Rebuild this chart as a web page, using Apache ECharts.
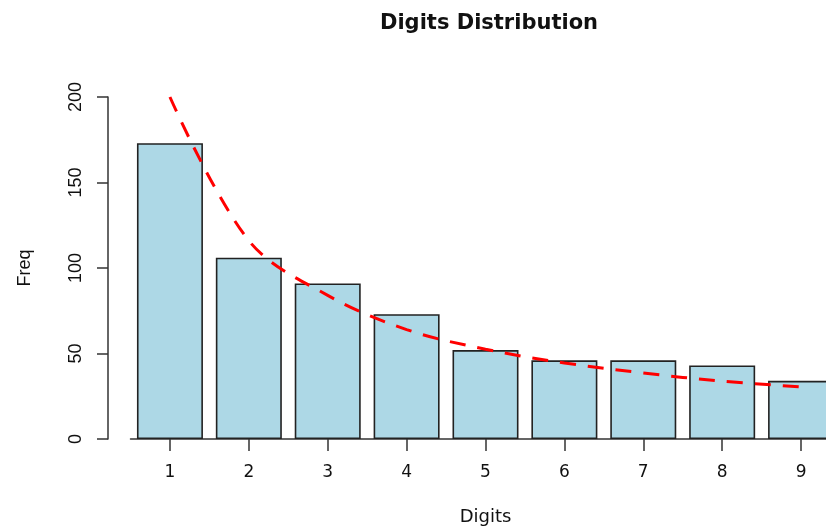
<!DOCTYPE html>
<html>
<head>
<meta charset="utf-8">
<script src="https://cdn.jsdelivr.net/npm/echarts@6/dist/echarts.min.js"></script>
<style>html,body{margin:0;padding:0;background:#fff}#c{width:826px;height:527px}</style>
</head>
<body>
<div id="c"></div>
<script>
const digits = ['1','2','3','4','5','6','7','8','9'];
const freq = [173, 106, 91, 73, 52, 46, 46, 43, 34];
const expected = [200, 116, 84, 64, 52.5, 44.5, 38.6, 33.8, 30.5];
const yTicks = [0, 50, 100, 150, 200];

const chart = echarts.init(document.getElementById('c'), null, {renderer: 'canvas'});
const wide = '"DejaVu Sans", sans-serif';
const narrow = '"Liberation Sans", Arial, sans-serif';
chart.setOption({
  animation: false,
  backgroundColor: '#ffffff',
  title: {
    text: 'Digits Distribution',
    left: 484, top: 8, textAlign: 'center',
    textStyle: {fontFamily: wide, fontSize: 21, fontWeight: 'bold', color: '#111'}
  },
  grid: {left: 130.5, right: -14.5, top: 97, bottom: 88, outerBoundsMode: 'none', containLabel: false},
  xAxis: {
    type: 'category',
    data: digits,
    name: 'Digits',
    nameLocation: 'middle',
    nameGap: 69,
    nameTextStyle: {fontFamily: wide, fontSize: 18, color: '#111'},
    axisLine: {show: true, lineStyle: {color: '#333', width: 1.5}},
    axisTick: {show: true, alignWithLabel: true, length: 12, lineStyle: {color: '#333', width: 1.5}},
    axisLabel: {fontFamily: wide, fontSize: 17, color: '#111', margin: 25},
    splitLine: {show: false}
  },
  yAxis: {
    type: 'value',
    min: yTicks[0], max: yTicks[yTicks.length - 1], interval: 50,
    offset: 22.5,
    name: 'Freq',
    nameLocation: 'middle',
    nameGap: 74,
    nameRotate: 90,
    nameTextStyle: {fontFamily: narrow, fontSize: 18, color: '#111'},
    axisLine: {show: true, lineStyle: {color: '#333', width: 1.5}},
    axisTick: {show: true, length: 11, lineStyle: {color: '#333', width: 1.5}},
    axisLabel: {fontFamily: narrow, fontSize: 18, color: '#111', rotate: 90, margin: 23},
    splitLine: {show: false}
  },
  series: [
    {
      type: 'bar',
      data: freq,
      barWidth: 66,
      itemStyle: {color: '#ADD8E6', borderColor: '#222', borderWidth: 1.6},
      z: 2
    },
    {
      type: 'line',
      data: expected,
      smooth: 0.35,
      symbol: 'none',
      lineStyle: {color: '#ff0000', width: 3, type: [16, 12]},
      z: 3
    }
  ]
});
</script>
</body>
</html>
